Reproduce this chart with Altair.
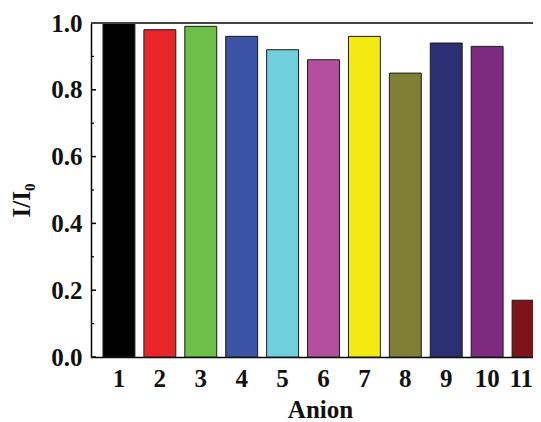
import altair as alt
import pandas as pd

anions = ["1", "2", "3", "4", "5", "6", "7", "8", "9", "10", "11"]
ratios = [1.00, 0.98, 0.99, 0.96, 0.92, 0.89, 0.96, 0.85, 0.94, 0.93, 0.17]
colors = ["#000000", "#e8262a", "#6cbf47", "#3a53a4", "#6fcfdc", "#b44f9e",
          "#f3ea12", "#7f7f35", "#2b2f74", "#7d2a7f", "#7d1419"]
major_ticks = [0.0, 0.2, 0.4, 0.6, 0.8, 1.0]
minor_ticks = [0.1, 0.3, 0.5, 0.7, 0.9]

df = pd.DataFrame({"anion": anions, "ratio": ratios})
major_df = pd.DataFrame({"v": major_ticks})
minor_df = pd.DataFrame({"v": minor_ticks})

FONT = "Liberation Serif"

yscale = alt.Scale(domain=[0, 1], nice=False, zero=True)

bars = alt.Chart(df).mark_bar(stroke="#1a1a1a", strokeWidth=1).encode(
    x=alt.X(
        "anion:N",
        sort=anions,
        scale=alt.Scale(paddingInner=0.22, paddingOuter=0.293, range=[0, 465]),
        axis=alt.Axis(
            title="Anion",
            labelAngle=0,
            ticks=False,
            domainColor="black",
            domainWidth=1.5,
            labelFont=FONT,
            labelFontWeight="bold",
            labelFontSize=25,
            labelColor="#111111",
            labelPadding=9,
            labelAlign=alt.expr("datum.label == '11' ? 'right' : 'center'"),
            labelOffset=alt.expr("datum.label == '11' ? 5 : 0"),
            titleFont=FONT,
            titleFontWeight="bold",
            titleFontSize=25,
            titleColor="#111111",
            titlePadding=6,
            titleX=229,
            titleAnchor="middle",
        ),
    ),
    y=alt.Y(
        "ratio:Q",
        scale=yscale,
        axis=alt.Axis(
            title="I/I₀",
            values=major_ticks,
            format=".1f",
            ticks=False,
            grid=False,
            domainColor="black",
            domainWidth=1.5,
            labelFont=FONT,
            labelFontWeight="bold",
            labelFontSize=25,
            labelColor="#111111",
            labelPadding=9,
            titleFont=FONT,
            titleFontWeight="bold",
            titleFontSize=25,
            titleColor="#111111",
            titleX=-62,
            titleY=177,
            titleBaseline="alphabetic",
        ),
    ),
    color=alt.Color("anion:N", scale=alt.Scale(domain=anions, range=colors), legend=None),
)

major = alt.Chart(major_df).mark_rule(color="black", strokeWidth=1.5).encode(
    y=alt.Y("v:Q", scale=yscale),
    x=alt.value(0),
    x2=alt.value(5),
)
minor = alt.Chart(minor_df).mark_rule(color="black", strokeWidth=1.2).encode(
    y=alt.Y("v:Q", scale=yscale),
    x=alt.value(0),
    x2=alt.value(3),
)
top_line = alt.Chart(major_df).mark_rule(color="#444444", strokeWidth=1.5).encode(
    y=alt.value(0),
    x=alt.value(0),
    x2=alt.value(470),
)

chart = alt.layer(bars, major, minor, top_line).properties(
    width=442,
    height=334,
    autosize=alt.AutoSizeParams(type="none"),
    padding={"left": 83, "top": 15, "right": 0, "bottom": 65},
).configure_view(strokeWidth=0).configure(background="white")

chart.save("out.html", embed_options={"renderer": "svg", "actions": False})
